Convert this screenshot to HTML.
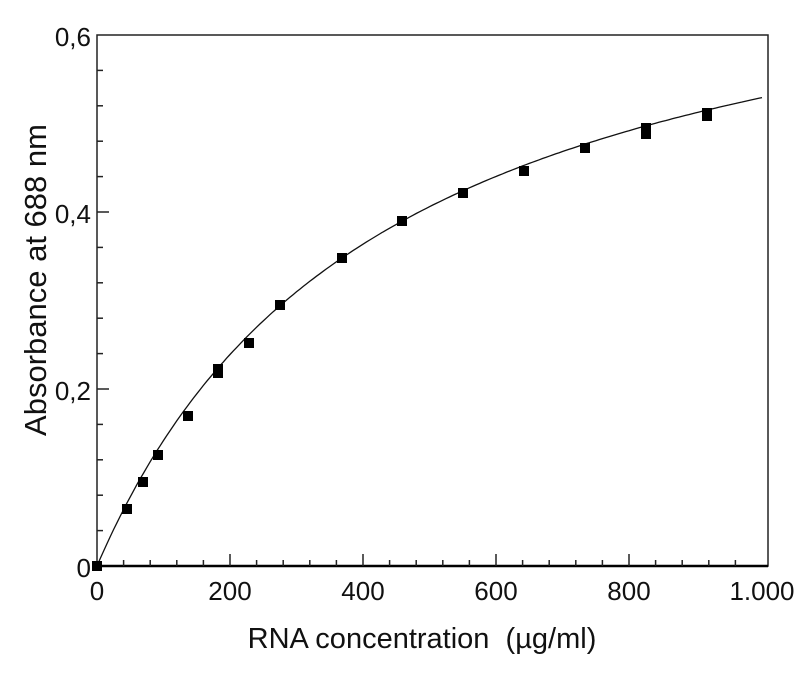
<!DOCTYPE html>
<html><head><style>body{margin:0;background:#fff}</style></head><body>
<svg width="810" height="675" xmlns="http://www.w3.org/2000/svg" font-family="Liberation Sans, sans-serif">
<rect width="810" height="675" fill="#fff"/>
<rect x="97" y="35" width="671" height="531" fill="none" stroke="#222" stroke-width="1.5"/>
<line x1="97" y1="566" x2="768" y2="566" stroke="#000" stroke-width="2.5"/>
<g stroke="#222" stroke-width="1.5" id="t"></g>
<g font-size="26" fill="#111" text-anchor="end">
<text x="91" y="46">0,6</text><text x="91" y="223">0,4</text><text x="91" y="400">0,2</text><text x="91" y="577">0</text>
</g>
<g font-size="26" fill="#111" text-anchor="middle">
<text x="97" y="600">0</text><text x="230" y="600">200</text><text x="363" y="600">400</text><text x="496" y="600">600</text><text x="629" y="600">800</text><text x="762" y="600">1.000</text>
</g>
<text x="422" y="648" font-size="29" text-anchor="middle" fill="#111" xml:space="preserve">RNA concentration  (µg/ml)</text>
<text transform="translate(46,280) rotate(-90)" font-size="31" text-anchor="middle" fill="#111">Absorbance at 688 nm</text>
<polyline id="c" fill="none" stroke="#111" stroke-width="1.3"/>
<g id="p" fill="#000"></g>
</svg>
<script>
var ns="http://www.w3.org/2000/svg",t=document.getElementById('t');
function L(a,b,c,d){var l=document.createElementNS(ns,'line');l.setAttribute('x1',a);l.setAttribute('y1',b);l.setAttribute('x2',c);l.setAttribute('y2',d);t.appendChild(l);}
for(var v=40;v<1000;v+=40){var x=97+v*0.665;L(x,566,x,566-(v%200==0?12:6));}
for(var k=1;k<15;k++){var y=566-k*0.04*885;L(97,y,97+(k%5==0?12:6),y);}
var pts=[];for(var v=0;v<=1002;v+=5){pts.push((97+v*0.665).toFixed(1)+','+(566-885*0.76*v/(436+v)).toFixed(1));}
document.getElementById('c').setAttribute('points',pts.join(' '));
var d=[[97,566],[127,509],[143,482],[158,455],[188,416],[218,369],[218,373],[249,343],[280,305],[342,258],[402,221],[463,193],[524,171],[585,148],[646,128],[646,134],[707,113],[707,116]];
var g=document.getElementById('p');d.forEach(function(q){var r=document.createElementNS(ns,'rect');r.setAttribute('x',q[0]-5);r.setAttribute('y',q[1]-5);r.setAttribute('width',10);r.setAttribute('height',10);g.appendChild(r);});
</script>
</body></html>
